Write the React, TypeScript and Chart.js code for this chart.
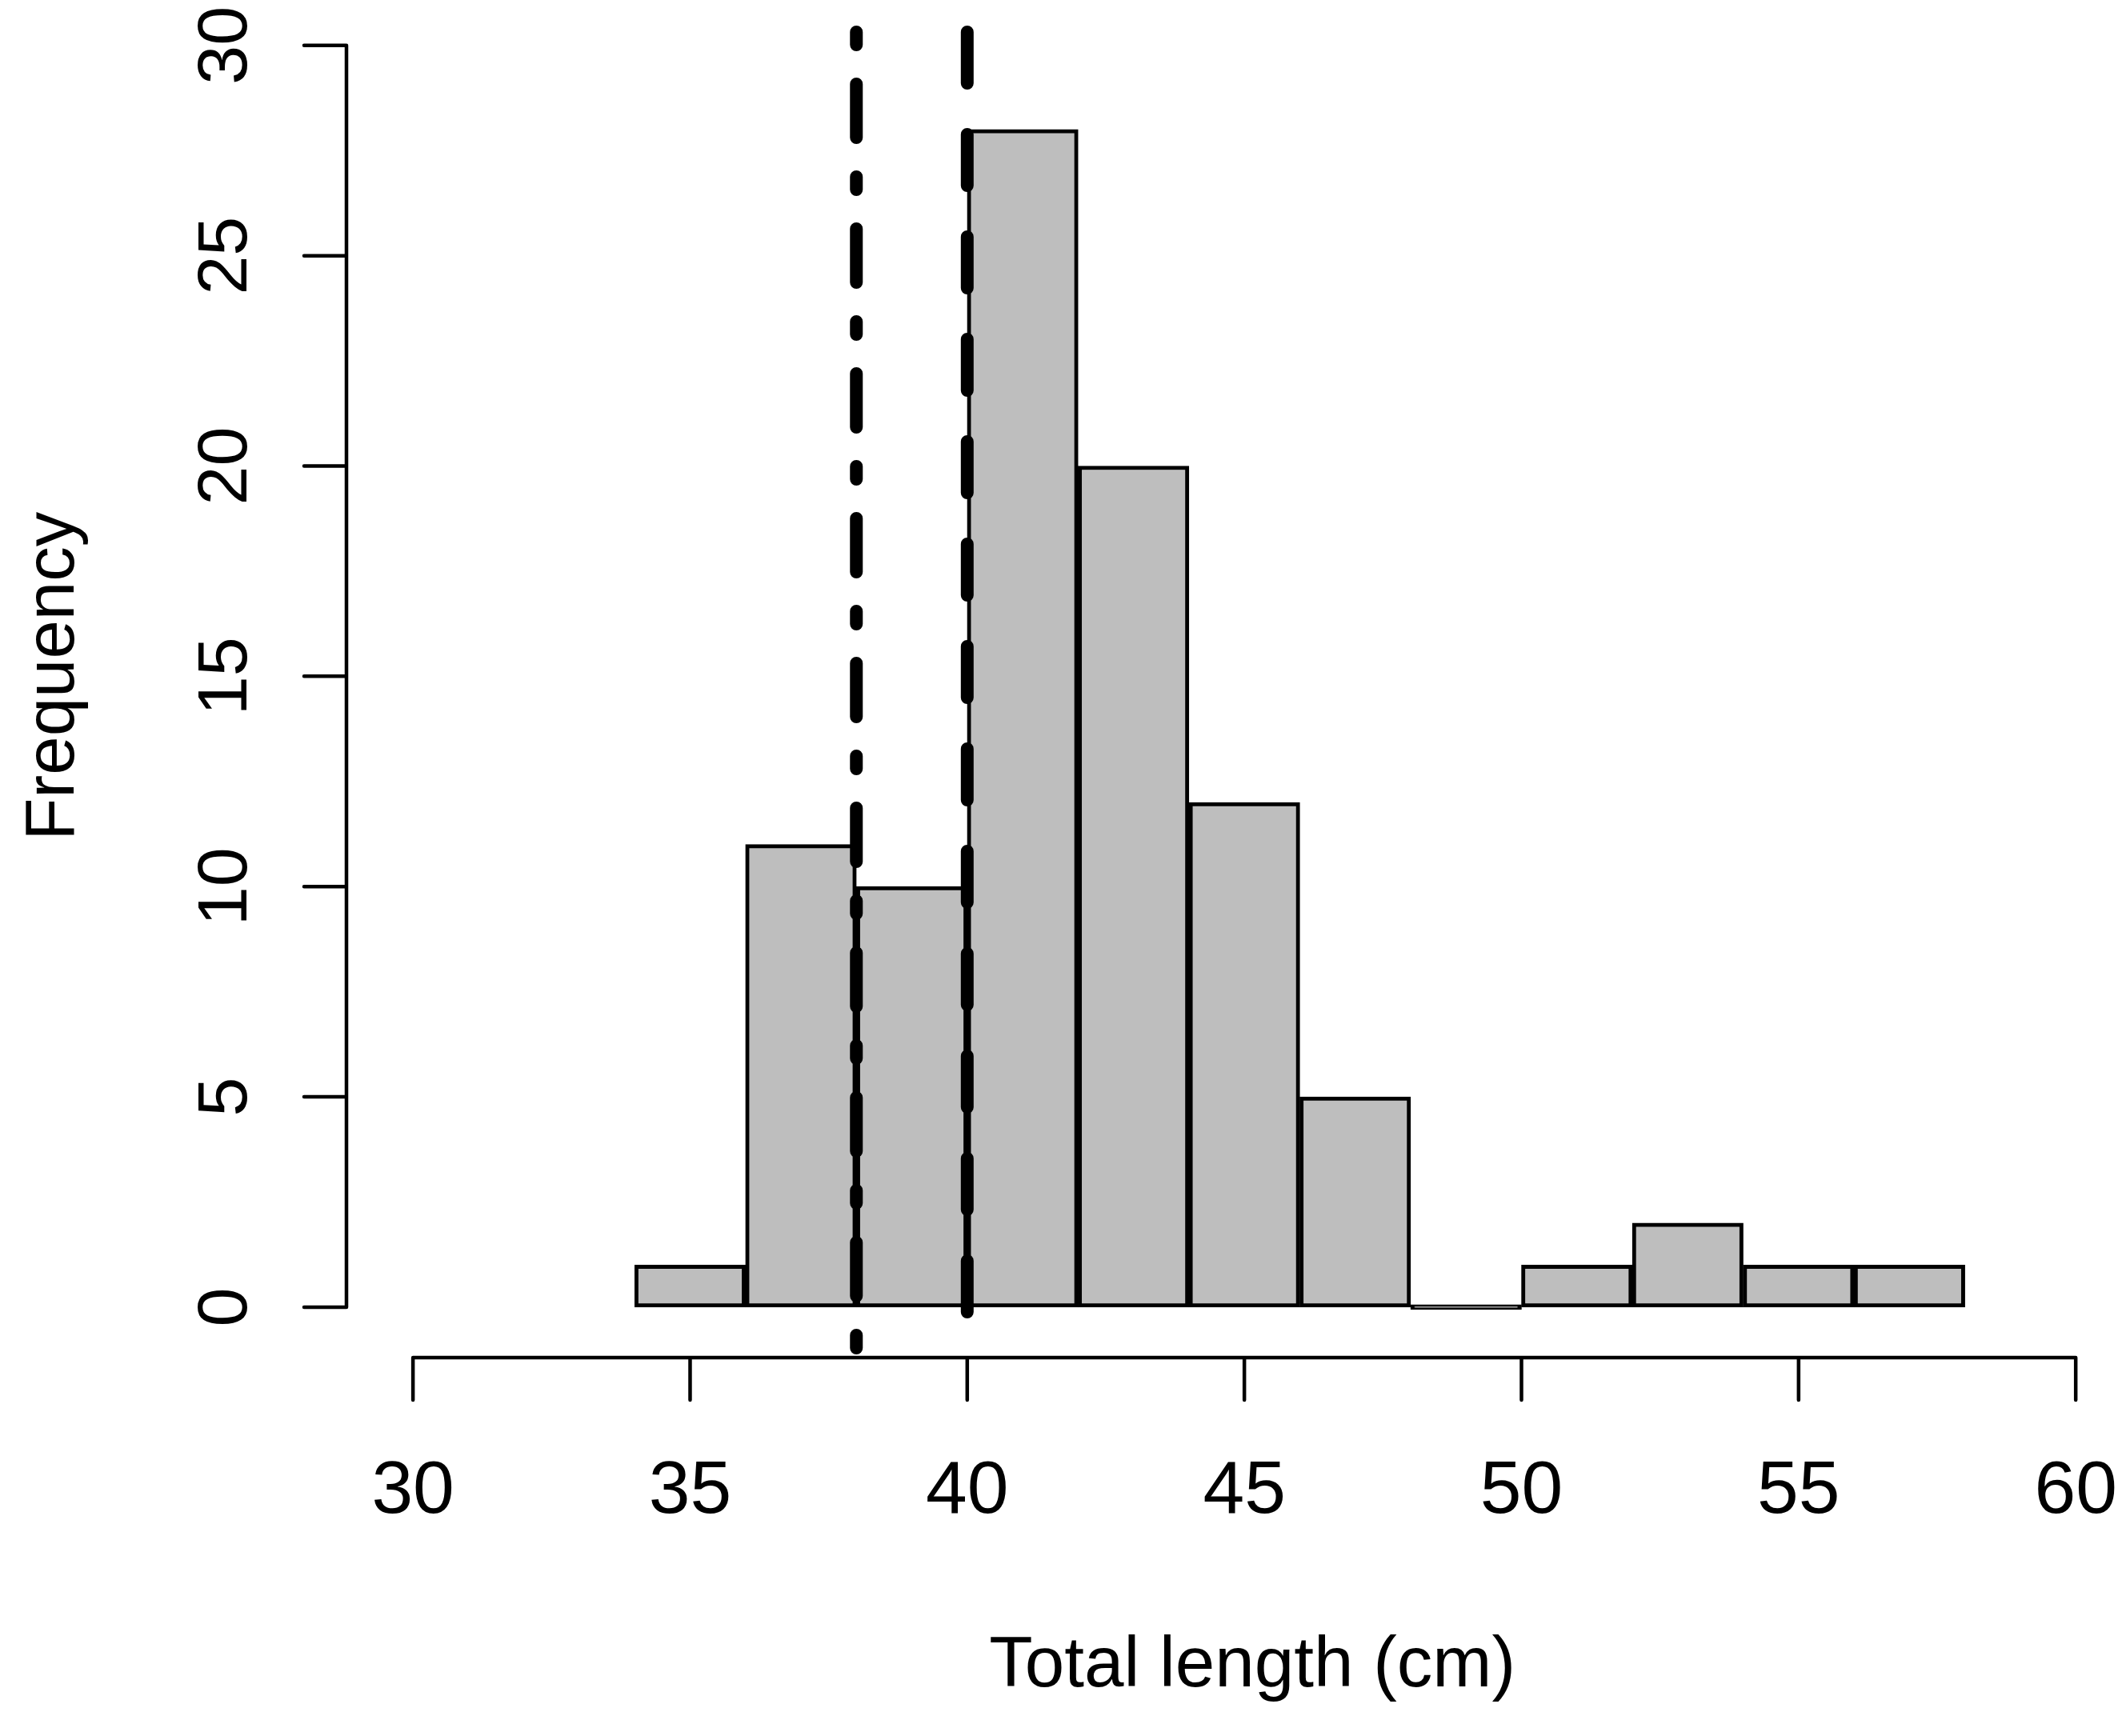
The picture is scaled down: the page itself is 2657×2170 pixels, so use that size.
import React, { useRef, useEffect } from 'react';
import { Chart, registerables } from 'chart.js';

Chart.register(...registerables);

// histogram of total length, 2 cm bins
const binEdges = [34, 36, 38, 40, 42, 44, 46, 48, 50, 52, 54, 56, 58];
const counts = [1, 11, 10, 28, 20, 12, 5, 0, 1, 2, 1, 1];

// vertical reference lines: dot-dash at 38, long dash at 40
const refLines = [38, 40];

const xTicks = [30, 35, 40, 45, 50, 55, 60];
const yTicks = [0, 5, 10, 15, 20, 25, 30];

const xTitle = 'Total length (cm)';
const yTitle = 'Frequency';

const W = 2657;
const H = 2170;
const FONT = '"Liberation Sans", Arial, Helvetica, sans-serif';

// R-like axes, labels and the abline() reference lines
const rStylePlugin = {
    id: 'rStyle',
    afterDatasetsDraw(chart: any) {
        const { ctx, chartArea, scales } = chart;
        const x = scales.x;
        const patterns = [
            { dash: [16, 49, 67, 49], offset: 141 },
            { dash: [64, 64], offset: 88 }
        ];
        ctx.save();
        ctx.beginPath();
        ctx.rect(chartArea.left, chartArea.top, chartArea.right - chartArea.left, chartArea.bottom - chartArea.top);
        ctx.clip();
        ctx.strokeStyle = '#000';
        ctx.lineWidth = 16;
        ctx.lineCap = 'round';
        refLines.forEach((v, i) => {
            const px = x.getPixelForValue(v);
            ctx.setLineDash(patterns[i].dash);
            ctx.lineDashOffset = patterns[i].offset;
            ctx.beginPath();
            ctx.moveTo(px, chartArea.top);
            ctx.lineTo(px, chartArea.bottom);
            ctx.stroke();
        });
        ctx.restore();
    },
    afterDraw(chart: any) {
        const { ctx, chartArea, scales } = chart;
        const x = scales.x;
        const y = scales.y;
        const xb = chartArea.bottom;
        const yl = chartArea.left;
        const tick = 53;

        ctx.save();
        ctx.strokeStyle = '#000';
        ctx.fillStyle = '#000';
        ctx.lineWidth = 4.5;
        ctx.lineCap = 'round';
        ctx.setLineDash([]);

        // x axis
        ctx.beginPath();
        ctx.moveTo(x.getPixelForValue(xTicks[0]), xb);
        ctx.lineTo(x.getPixelForValue(xTicks[xTicks.length - 1]), xb);
        xTicks.forEach((t) => {
            const p = x.getPixelForValue(t);
            ctx.moveTo(p, xb);
            ctx.lineTo(p, xb + tick);
        });
        ctx.stroke();

        // y axis
        ctx.beginPath();
        ctx.moveTo(yl, y.getPixelForValue(yTicks[0]));
        ctx.lineTo(yl, y.getPixelForValue(yTicks[yTicks.length - 1]));
        yTicks.forEach((t) => {
            const p = y.getPixelForValue(t);
            ctx.moveTo(yl, p);
            ctx.lineTo(yl - tick, p);
        });
        ctx.stroke();

        // tick labels
        ctx.textAlign = 'center';
        ctx.textBaseline = 'alphabetic';
        ctx.font = `93px ${FONT}`;
        xTicks.forEach((t) => {
            ctx.fillText(String(t), x.getPixelForValue(t), xb + 194);
        });

        ctx.font = `88px ${FONT}`;
        yTicks.forEach((t) => {
            ctx.save();
            ctx.translate(yl - 125, y.getPixelForValue(t));
            ctx.rotate(-Math.PI / 2);
            ctx.fillText(String(t), 0, 0);
            ctx.restore();
        });

        // axis titles
        ctx.font = `89px ${FONT}`;
        const xMid = (xTicks[0] + xTicks[xTicks.length - 1]) / 2;
        ctx.fillText(xTitle, x.getPixelForValue(xMid) + 10, xb + 411);

        ctx.font = `87px ${FONT}`;
        const yMid = (yTicks[0] + yTicks[yTicks.length - 1]) / 2;
        ctx.save();
        ctx.translate(yl - 341, y.getPixelForValue(yMid));
        ctx.rotate(-Math.PI / 2);
        ctx.fillText(yTitle, 0, 0);
        ctx.restore();

        ctx.restore();
    }
};

const App: React.FC = () => {
    const chartRef = useRef<HTMLCanvasElement>(null);
    const chartInstance = useRef<Chart | null>(null);

    useEffect(() => {
        document.body.style.margin = '0';
        if (!chartRef.current) return;
        if (chartInstance.current) {
            chartInstance.current.destroy();
        }

        const points = counts.map((c, i) => ({
            x: (binEdges[i] + binEdges[i + 1]) / 2,
            y: c
        }));

        chartInstance.current = new Chart(chartRef.current, {
            type: 'bar',
            data: {
                datasets: [
                    {
                        label: 'Frequency',
                        data: points,
                        backgroundColor: '#bebebe',
                        borderColor: '#000000',
                        borderWidth: 5,
                        borderSkipped: false,
                        barPercentage: 1,
                        categoryPercentage: 1,
                        minBarLength: 6
                    }
                ]
            },
            options: {
                responsive: false,
                animation: false,
                devicePixelRatio: 1,
                layout: {
                    padding: { left: 433, top: 0, right: 0, bottom: 473 }
                },
                plugins: {
                    legend: { display: false },
                    tooltip: { enabled: false }
                },
                scales: {
                    x: {
                        type: 'linear',
                        display: false,
                        offset: false,
                        min: 28.8,
                        max: 60.907,
                        afterBuildTicks: (scale: any) => {
                            scale.ticks = xTicks.map((v) => ({ value: v }));
                        }
                    },
                    y: {
                        type: 'linear',
                        display: false,
                        min: -1.2,
                        max: 31.08
                    }
                }
            },
            plugins: [rStylePlugin]
        });

        return () => {
            if (chartInstance.current) {
                chartInstance.current.destroy();
                chartInstance.current = null;
            }
        };
    }, []);

    return (
        <div style={{ width: W, height: H, background: '#ffffff', overflow: 'hidden' }}>
            <canvas ref={chartRef} width={W} height={H} style={{ display: 'block' }} />
        </div>
    );
};

export default App;
